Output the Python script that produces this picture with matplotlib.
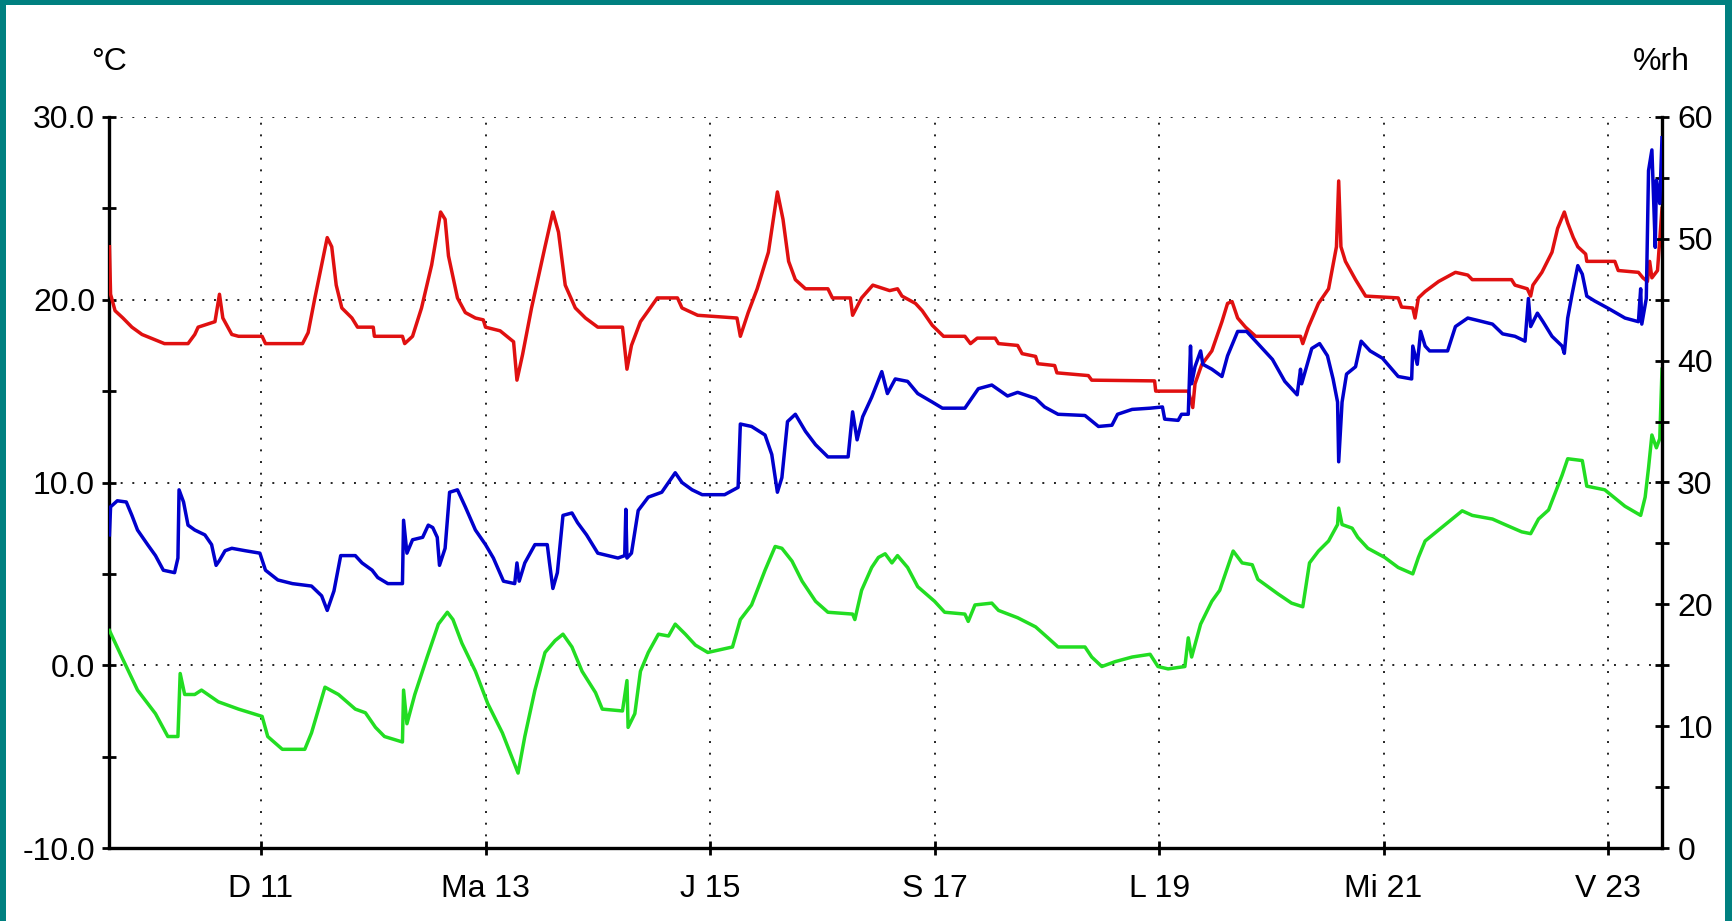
import matplotlib
matplotlib.use("Agg")
import matplotlib.pyplot as plt
from matplotlib.patches import Rectangle
from matplotlib.ticker import MultipleLocator, FormatStrFormatter

plt.rcParams['font.family'] = ['Liberation Sans', 'DejaVu Sans']

# x = day of month (fractional), temperatures in degC, humidity in %rh
red_day = [9.65, 9.66, 9.70, 9.77, 9.85, 9.94, 10.14, 10.35, 10.41, 10.44, 10.59, 10.63, 10.66, 10.74, 10.80,
           11.01, 11.04, 11.37, 11.42, 11.48, 11.59, 11.63, 11.67, 11.72, 11.81, 11.86, 12.00, 12.01, 12.26,
           12.28, 12.35, 12.43, 12.52, 12.60, 12.64, 12.67, 12.75, 12.82, 12.91, 12.98, 13.00, 13.13, 13.25,
           13.28, 13.33, 13.41, 13.53, 13.60, 13.65, 13.71, 13.80, 13.89, 14.00, 14.22, 14.26, 14.30, 14.38,
           14.45, 14.53, 14.71, 14.75, 14.89, 15.24, 15.27, 15.34, 15.42, 15.52, 15.60, 15.65, 15.70, 15.76,
           15.85, 16.05, 16.09, 16.25, 16.27, 16.35, 16.45, 16.50, 16.60, 16.67, 16.71, 16.83, 16.89, 16.98,
           17.08, 17.27, 17.32, 17.38, 17.54, 17.57, 17.74, 17.78, 17.90, 17.92, 18.07, 18.09, 18.37, 18.40,
           18.96, 18.97, 19.26, 19.30, 19.32, 19.38, 19.47, 19.56, 19.61, 19.65, 19.70, 19.77, 19.86, 20.26,
           20.28, 20.33, 20.42, 20.51, 20.58, 20.60, 20.62, 20.66, 20.75, 20.84, 21.13, 21.16, 21.26, 21.28,
           21.31, 21.37, 21.49, 21.64, 21.75, 21.79, 22.14, 22.17, 22.28, 22.31, 22.33, 22.41, 22.50, 22.55,
           22.61, 22.64, 22.69, 22.73, 22.80, 22.81, 23.06, 23.09, 23.27, 23.31, 23.35, 23.37, 23.39, 23.44,
           23.48]
red_t = [22.9, 20.3, 19.4, 19.0, 18.5, 18.1, 17.6, 17.6, 18.1, 18.5, 18.8, 20.3, 19.0, 18.1, 18.0,
         18.0, 17.6, 17.6, 18.2, 20.1, 23.4, 22.9, 20.8, 19.55, 19.0, 18.5, 18.5, 18.0, 18.0,
         17.6, 18.0, 19.55, 21.9, 24.8, 24.4, 22.4, 20.1, 19.3, 19.0, 18.9, 18.5, 18.3, 17.7,
         15.6, 17.0, 19.55, 22.9, 24.8, 23.7, 20.8, 19.55, 19.0, 18.5, 18.5, 16.2, 17.5, 18.8,
         19.4, 20.1, 20.1, 19.55, 19.15, 19.0, 18.0, 19.3, 20.6, 22.6, 25.9, 24.4, 22.1, 21.1,
         20.6, 20.6, 20.1, 20.1, 19.15, 20.1, 20.8, 20.7, 20.5, 20.6, 20.2, 19.8, 19.4, 18.6,
         18.0, 18.0, 17.6, 17.9, 17.9, 17.6, 17.5, 17.05, 16.9, 16.5, 16.4, 16.0, 15.85, 15.6,
         15.56, 15.0, 15.0, 14.1, 15.4, 16.45, 17.2, 18.8, 19.8, 19.9, 19.0, 18.5, 18.0, 18.0,
         17.6, 18.5, 19.8, 20.6, 22.9, 26.5, 22.9, 22.1, 21.1, 20.2, 20.1, 19.6, 19.55, 19.0,
         20.1, 20.45, 21.0, 21.5, 21.35, 21.1, 21.1, 20.8, 20.6, 20.2, 20.8, 21.5, 22.6, 23.9,
         24.8, 24.2, 23.4, 22.9, 22.5, 22.1, 22.1, 21.6, 21.5, 21.2, 21.0, 22.1, 21.2, 21.6,
         25.0]

blue_day = [9.65, 9.66, 9.72, 9.80, 9.85, 9.90, 9.99, 10.06, 10.13, 10.23, 10.26, 10.27, 10.31, 10.35, 10.41,
            10.50, 10.56, 10.60, 10.63, 10.68, 10.74, 10.86, 10.99, 11.04, 11.15, 11.28, 11.45, 11.54, 11.59,
            11.65, 11.71, 11.84, 11.90, 11.99, 12.04, 12.13, 12.26, 12.27, 12.30, 12.35, 12.44, 12.49, 12.53,
            12.57, 12.59, 12.64, 12.68, 12.75, 12.82, 12.91, 13.00, 13.07, 13.16, 13.26, 13.28, 13.30, 13.35,
            13.44, 13.55, 13.57, 13.60, 13.64, 13.69, 13.77, 13.82, 13.90, 14.00, 14.18, 14.24, 14.25, 14.26,
            14.30, 14.36, 14.45, 14.57, 14.69, 14.75, 14.84, 14.93, 15.13, 15.25, 15.27, 15.37, 15.49, 15.55,
            15.60, 15.64, 15.69, 15.76, 15.85, 15.94, 16.05, 16.23, 16.27, 16.31, 16.36, 16.44, 16.53, 16.58,
            16.65, 16.76, 16.85, 16.98, 17.07, 17.27, 17.33, 17.39, 17.51, 17.65, 17.74, 17.90, 17.98, 18.10,
            18.34, 18.46, 18.58, 18.63, 18.76, 18.92, 19.03, 19.05, 19.17, 19.20, 19.26, 19.28, 19.29, 19.32,
            19.37, 19.39, 19.47, 19.56, 19.61, 19.70, 19.78, 19.88, 20.01, 20.12, 20.23, 20.26, 20.27, 20.36,
            20.43, 20.50, 20.55, 20.59, 20.60, 20.63, 20.67, 20.75, 20.80, 20.88, 20.99, 21.13, 21.25, 21.26,
            21.30, 21.33, 21.37, 21.41, 21.57, 21.64, 21.75, 21.84, 21.97, 22.06, 22.17, 22.26, 22.29, 22.31,
            22.37, 22.42, 22.50, 22.59, 22.61, 22.64, 22.68, 22.73, 22.77, 22.81, 22.88, 23.00, 23.15, 23.27,
            23.29, 23.30, 23.34, 23.36, 23.39, 23.42, 23.43, 23.46, 23.48]
blue_rh = [25.7, 28.0, 28.5, 28.4, 27.3, 26.1, 24.9, 24.0, 22.8, 22.6, 23.8, 29.4, 28.4, 26.5, 26.1,
           25.7, 24.9, 23.2, 23.6, 24.4, 24.6, 24.4, 24.2, 22.8, 22.0, 21.7, 21.5, 20.7, 19.5,
           21.1, 24.0, 24.0, 23.4, 22.8, 22.2, 21.7, 21.7, 26.9, 24.2, 25.3, 25.5, 26.5, 26.3,
           25.5, 23.2, 24.6, 29.2, 29.4, 28.0, 26.1, 24.9, 23.8, 21.9, 21.7, 23.4, 21.9, 23.4,
           24.9, 24.9, 23.4, 21.3, 22.6, 27.3, 27.5, 26.7, 25.7, 24.2, 23.8, 24.0, 27.8, 23.8,
           24.2, 27.7, 28.8, 29.2, 30.8, 30.0, 29.4, 29.0, 29.0, 29.6, 34.8, 34.6, 33.9, 32.3,
           29.2, 30.4, 35.0, 35.6, 34.2, 33.1, 32.1, 32.1, 35.8, 33.5, 35.4, 37.0, 39.1, 37.3,
           38.5, 38.3, 37.3, 36.6, 36.1, 36.1, 36.9, 37.7, 38.0, 37.1, 37.4, 36.9, 36.2, 35.6,
           35.5, 34.6, 34.7, 35.6, 36.0, 36.1, 36.2, 35.2, 35.1, 35.6, 35.6, 41.2, 38.1, 39.5,
           40.8, 39.7, 39.3, 38.7, 40.4, 42.4, 42.4, 41.4, 40.1, 38.3, 37.2, 39.3, 38.1, 41.0,
           41.4, 40.4, 38.5, 36.6, 31.7, 36.6, 38.9, 39.5, 41.6, 40.8, 40.2, 38.7, 38.5, 41.2,
           39.7, 42.4, 41.2, 40.8, 40.8, 42.8, 43.5, 43.3, 43.0, 42.2, 42.0, 41.6, 45.1, 42.8,
           43.9, 43.2, 42.0, 41.2, 40.6, 43.5, 45.5, 47.8, 47.1, 45.3, 44.9, 44.3, 43.5, 43.2,
           45.9, 43.0, 45.1, 55.6, 57.3, 49.3, 54.8, 52.9, 58.3]

green_day = [9.65, 9.76, 9.90, 10.06, 10.17, 10.26, 10.28, 10.32, 10.41, 10.47, 10.62, 10.80, 11.01, 11.06,
             11.19, 11.39, 11.45, 11.57, 11.69, 11.84, 11.93, 12.02, 12.10, 12.26, 12.27, 12.30, 12.37, 12.48,
             12.58, 12.66, 12.71, 12.79, 12.91, 13.02, 13.15, 13.29, 13.35, 13.44, 13.53, 13.62, 13.69, 13.77,
             13.86, 13.98, 14.04, 14.22, 14.26, 14.27, 14.33, 14.38, 14.45, 14.54, 14.63, 14.69, 14.78, 14.87,
             14.98, 15.20, 15.27, 15.37, 15.49, 15.58, 15.64, 15.73, 15.82, 15.94, 16.05, 16.27, 16.29, 16.35,
             16.44, 16.50, 16.56, 16.62, 16.67, 16.76, 16.85, 17.00, 17.09, 17.27, 17.30, 17.36, 17.51, 17.57,
             17.74, 17.90, 18.01, 18.10, 18.34, 18.40, 18.49, 18.61, 18.76, 18.92, 18.99, 19.08, 19.23, 19.26,
             19.29, 19.37, 19.47, 19.54, 19.61, 19.66, 19.74, 19.83, 19.88, 20.06, 20.18, 20.28, 20.34, 20.42,
             20.51, 20.59, 20.60, 20.63, 20.72, 20.77, 20.86, 21.01, 21.13, 21.26, 21.31, 21.37, 21.49, 21.61,
             21.70, 21.79, 21.97, 22.08, 22.23, 22.31, 22.38, 22.47, 22.59, 22.64, 22.77, 22.81, 22.97, 23.15,
             23.29, 23.33, 23.36, 23.39, 23.43, 23.46, 23.48]
green_t = [1.9, 0.45, -1.36, -2.65, -3.9, -3.9, -0.45, -1.6, -1.6, -1.36, -2.0, -2.4, -2.8, -3.9,
           -4.6, -4.6, -3.7, -1.2, -1.6, -2.4, -2.6, -3.4, -3.9, -4.2, -1.36, -3.2, -1.6, 0.45,
           2.25, 2.9, 2.5, 1.2, -0.33, -2.1, -3.7, -5.9, -3.9, -1.36, 0.7, 1.35, 1.7, 1.0,
           -0.33, -1.5, -2.4, -2.5, -0.84, -3.4, -2.65, -0.33, 0.7, 1.7, 1.6, 2.25, 1.7, 1.1,
           0.7, 1.0, 2.5, 3.3, 5.2, 6.5, 6.4, 5.7, 4.6, 3.5, 2.9, 2.8, 2.5, 4.1,
           5.35, 5.9, 6.1, 5.6, 6.0, 5.35, 4.3, 3.5, 2.9, 2.8, 2.4, 3.3, 3.4, 3.0,
           2.6, 2.1, 1.5, 1.0, 1.0, 0.45, -0.07, 0.2, 0.45, 0.6, -0.07, -0.2, -0.07, 1.5,
           0.45, 2.25, 3.5, 4.1, 5.35, 6.25, 5.6, 5.5, 4.7, 3.9, 3.4, 3.2, 5.6, 6.25,
           6.8, 7.7, 8.6, 7.7, 7.5, 7.0, 6.4, 5.9, 5.35, 5.0, 5.9, 6.8, 7.4, 8.0,
           8.45, 8.2, 8.0, 7.7, 7.3, 7.2, 8.0, 8.5, 10.4, 11.3, 11.2, 9.8, 9.6, 8.7,
           8.2, 9.2, 10.8, 12.6, 11.9, 12.4, 16.2]

date_ticks = [11, 13, 15, 17, 19, 21, 23]
date_labels = ["D 11", "Ma 13", "J 15", "S 17", "L 19", "Mi 21", "V 23"]

W, H = 1732, 921
fig = plt.figure(figsize=(W / 100, H / 100), dpi=100)
fig.patch.set_facecolor('#008080')
white = Rectangle((6 / W, 0), (1725 - 6) / W, (H - 5) / H, transform=fig.transFigure,
                  facecolor='white', edgecolor='none', zorder=-10)
fig.add_artist(white)

ax = fig.add_axes([109 / W, (H - 848) / H, (1662 - 109) / W, (848 - 117) / H])
ax.set_facecolor('none')
ax2 = ax.twinx()

ax.plot(green_day, green_t, color='#22dd22', lw=2.5, zorder=3)
ax.plot(red_day, red_t, color='#e01010', lw=2.5, zorder=4)
ax2.plot(blue_day, blue_rh, color='#0000cc', lw=2.5, zorder=3)

ax.set_xlim(9.646, 23.48)
ax.set_ylim(-10, 30)
ax2.set_ylim(0, 60)

ax.set_xticks(date_ticks)
ax.set_xticklabels(date_labels)
ax.yaxis.set_major_locator(MultipleLocator(10))
ax.yaxis.set_minor_locator(MultipleLocator(5))
ax.yaxis.set_major_formatter(FormatStrFormatter('%.1f'))
ax2.yaxis.set_major_locator(MultipleLocator(10))
ax2.yaxis.set_minor_locator(MultipleLocator(5))

dots = (0, (1, 5))
ax.grid(True, which='major', linestyle=dots, color='#222222', linewidth=1.4)
ax.set_axisbelow(True)

for s in ['top', 'right']:
    ax.spines[s].set_visible(False)
for s in ['top', 'left', 'bottom']:
    ax2.spines[s].set_visible(False)
ax.spines['left'].set_linewidth(2.4)
ax.spines['bottom'].set_linewidth(2.4)
ax2.spines['right'].set_linewidth(2.4)

ax.tick_params(axis='y', which='both', direction='inout', length=10, width=2, labelsize=23, pad=5)
ax.tick_params(axis='x', which='both', direction='inout', length=10, width=2, labelsize=23, pad=14)
ax2.tick_params(axis='y', which='both', direction='inout', length=10, width=2, labelsize=23, pad=6)

fig.text(109 / W, (H - 62) / H, "°C", fontsize=23, ha='center', va='center')
fig.text(1661 / W, (H - 62) / H, "%rh", fontsize=23, ha='center', va='center')

fig.savefig("out.png", dpi=100, facecolor=fig.get_facecolor())
